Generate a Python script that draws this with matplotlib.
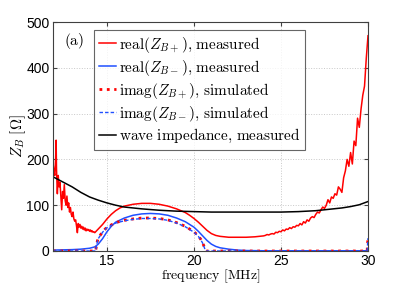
import numpy as np
import matplotlib
matplotlib.use('Agg')
import matplotlib.pyplot as plt

plt.rcParams['mathtext.fontset'] = 'cm'

# real(Z_B+), measured -- noisy at both ends
f_red = [11.9, 11.95, 12.0, 12.05, 12.08, 12.1, 12.15, 12.2, 12.25, 12.3, 12.35, 12.4,
         12.45, 12.5, 12.55, 12.6, 12.65, 12.7, 12.75, 12.8, 12.85, 12.9, 12.95, 13.0,
         13.05, 13.1, 13.15, 13.2, 13.25, 13.3, 13.35, 13.4, 13.45, 13.5, 13.55, 13.6,
         13.65, 13.7, 13.75, 13.8, 13.85, 13.9, 13.95, 14.0, 14.05, 14.1, 14.15, 14.2,
         14.25, 14.3, 14.35,
         14.5, 14.75, 15.0, 15.25, 15.5, 15.75, 16.0, 16.5, 17.0, 17.5, 18.0, 18.5, 19.0,
         19.5, 19.75, 20.0, 20.25, 20.5, 20.75, 21.0, 21.25, 21.5, 22.0, 22.5, 23.0, 23.5, 24.0,
         24.1, 24.2, 24.3, 24.4, 24.5, 24.6, 24.7, 24.8, 24.9, 25.0, 25.1, 25.2, 25.3, 25.4,
         25.5, 25.6, 25.7, 25.8, 25.9, 26.0, 26.1, 26.2, 26.3, 26.4, 26.5, 26.6, 26.7, 26.8,
         26.9, 27.0, 27.1, 27.2, 27.3, 27.4, 27.5, 27.6, 27.7, 27.8, 27.9, 28.0, 28.1, 28.2,
         28.3, 28.4, 28.5, 28.6, 28.7, 28.8, 28.9, 29.0, 29.1, 29.2, 29.3, 29.4, 29.5, 29.6,
         29.7, 29.8, 29.9, 30.0]
z_red = [192, 175, 165, 200, 242, 180, 125, 165, 140, 150, 120, 90,
         130, 115, 145, 110, 100, 120, 95, 105, 85, 95, 80, 75,
         85, 70, 65, 68, 55, 40, 60, 52, 58, 50, 54, 48,
         52, 46, 50, 44, 48, 45, 47, 43, 46, 42, 44, 41,
         42, 40, 42,
         48, 58, 70, 80, 88, 94, 98, 102, 104, 104, 102, 98, 92,
         84, 78, 71, 63, 54, 45, 38, 34, 32, 30, 30, 30, 31, 33,
         34, 36, 35, 37, 38, 37, 41, 40, 43, 42, 46, 44, 48, 47,
         51, 49, 53, 52, 56, 55, 60, 57, 64, 61, 68, 65, 72, 75,
         73, 80, 85, 83, 90, 96, 93, 100, 112, 105, 118, 115, 125, 122,
         140, 135, 128, 160, 175, 200, 185, 215, 190, 240, 230, 290, 270, 310,
         340, 360, 420, 470]

# real(Z_B-), measured
f_blue = [11.9, 13.0, 13.5, 14.0, 14.3, 14.5, 14.75, 15.0, 15.25, 15.5, 16.0, 16.5,
          17.0, 17.5, 18.0, 18.5, 19.0, 19.5, 20.0, 20.25, 20.5, 20.75, 21.0, 21.25,
          21.5, 22.0, 22.5, 23.0, 24.0, 30.0]
z_blue = [2, 3, 4, 6, 9, 15, 27, 42, 54, 63, 72, 78,
          81, 82, 81, 78, 72, 64, 52, 43, 33, 23, 15, 10,
          7, 4, 2, 1, 0.5, 0.5]

# imag(Z_B+/-), simulated
f_sim = [11.9, 14.35, 14.4, 14.45, 14.5, 14.75, 15.0, 15.5, 16.0, 16.5, 17.0, 17.5,
         18.0, 18.5, 19.0, 19.5, 20.0, 20.25, 20.4, 20.5, 20.6, 20.65, 20.7, 29.95, 30.0]
z_sim_p = [0, 0, 12, 22, 28, 42, 52, 62, 67, 70, 72, 72,
           71, 68, 62, 54, 42, 33, 25, 18, 8, 2, 0, 0, 30]
z_sim_m = [0, 0, 11, 21, 27, 41, 51, 61, 66, 69, 71, 71,
           70, 67, 61, 53, 41, 32, 24, 17, 7, 2, 0, 0, 28]

# wave impedance, measured
f_wave = [11.9, 12.5, 13.0, 13.5, 14.0, 14.5, 15.0, 15.5, 16.0, 16.5, 17.0, 18.0,
          19.0, 20.0, 21.0, 22.0, 23.0, 24.0, 25.0, 26.0, 27.0, 27.5, 28.0, 28.5,
          29.0, 29.5, 30.0]
z_wave = [162, 150, 140, 128, 118, 111, 105, 100, 96, 94, 92, 89,
          87, 86, 85, 85, 85, 85, 85, 86, 88, 90, 92, 94,
          97, 101, 108]

fig = plt.figure(figsize=(4.07, 2.83), dpi=100)
ax = fig.add_axes([53 / 407, 32 / 283, 315 / 407, 229 / 283])

ax.plot(f_red, z_red, color='#ff0000', lw=1.1,
        label=r'$\mathrm{real}(Z_{B+})\mathrm{{,}\ measured}$')
ax.plot(f_blue, z_blue, color='#1f4fff', lw=1.1,
        label=r'$\mathrm{real}(Z_{B-})\mathrm{{,}\ measured}$')
ax.plot(f_sim, z_sim_p, color='#ff0000', lw=2.0, ls=':',
        label=r'$\mathrm{imag}(Z_{B+})\mathrm{{,}\ simulated}$')
ax.plot(f_sim, z_sim_m, color='#1f4fff', lw=1.0, ls='--', dashes=(2.5, 1.5),
        label=r'$\mathrm{imag}(Z_{B-})\mathrm{{,}\ simulated}$')
ax.plot(f_wave, z_wave, color='black', lw=1.1,
        label=r'$\mathrm{wave\ impedance{,}\ measured}$')

ax.set_xlim(11.9, 30)
ax.set_ylim(0, 500)
ax.set_xticks([15, 20, 25, 30])
ax.set_yticks([0, 100, 200, 300, 400, 500])
ax.grid(True, ls=':', color='#c8c8c8', lw=0.7)
ax.tick_params(direction='in', length=3, top=True, right=True, color='#404040',
               labelsize=10, pad=2.5)
for lab in ax.get_xticklabels() + ax.get_yticklabels():
    lab.set_fontfamily('Liberation Sans')
for sp in ax.spines.values():
    sp.set_color('#404040')
    sp.set_linewidth(0.8)

ax.set_xlabel(r'$\mathrm{frequency\ [MHz]}$', fontsize=10, labelpad=-0.5)
ax.set_ylabel(r'$Z_B\ [\Omega]$', fontsize=11, labelpad=-1)
ax.text(0.035, 0.915, r'$\mathrm{(a)}$', transform=ax.transAxes, fontsize=11,
        va='center', ha='left')

leg = ax.legend(loc='upper right', bbox_to_anchor=(0.80, 0.965), borderaxespad=0,
                fontsize=11, handlelength=1.1, handletextpad=0.2, labelspacing=0.2,
                fancybox=False, borderpad=0.3)
leg.get_frame().set_edgecolor('#404040')
leg.get_frame().set_linewidth(0.8)

fig.savefig('out.png', dpi=100)
